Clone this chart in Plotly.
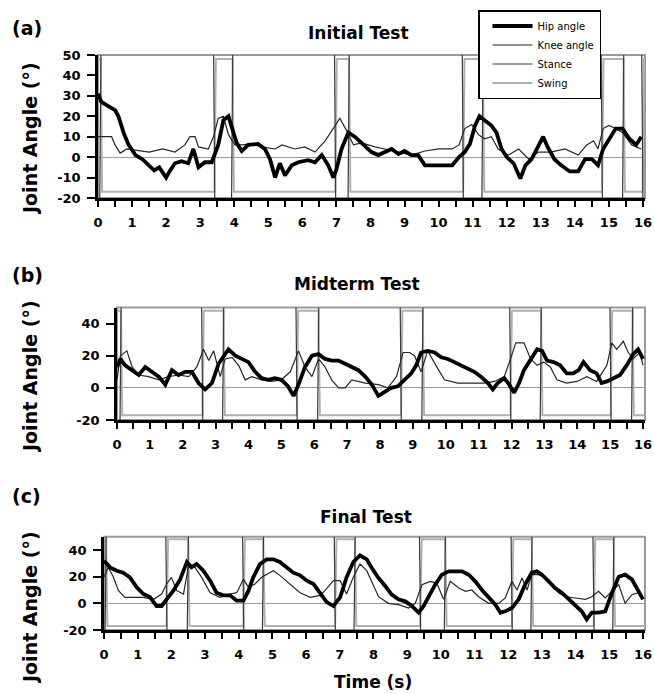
import plotly.graph_objects as go

# ---------------- data ----------------
# Panel (a) Initial Test
a_hip_t = [0, 0.1, 0.3, 0.5, 0.6, 0.75, 0.9, 1.1, 1.3, 1.5, 1.65, 1.8, 2.0, 2.1, 2.26, 2.45, 2.65, 2.8, 2.95, 3.14,
           3.34, 3.53, 3.68, 3.83, 3.92, 4.07, 4.22, 4.41, 4.7, 4.9, 5.05, 5.2, 5.34, 5.49, 5.69, 5.88, 6.17, 6.37, 6.57, 6.76,
           6.91, 7.0, 7.15, 7.35, 7.54, 7.74, 8.03, 8.23, 8.42, 8.62, 8.82, 9.0, 9.2, 9.4, 9.6, 9.8, 10.1, 10.4, 10.6, 10.77,
           10.92, 11.07, 11.2, 11.35, 11.55, 11.7, 11.85, 12.0, 12.2, 12.4, 12.55, 12.73, 12.93, 13.07, 13.2, 13.4, 13.6, 13.85, 14.1, 14.3,
           14.5, 14.68, 14.83, 15.0, 15.2, 15.4, 15.6, 15.8, 15.95]
a_hip = [31, 27, 25, 23, 20, 12, 6, 1, -1, -4, -6.5, -5, -10, -7, -3, -2, -3, 4, -5, -2.5,
         -2.5, 6, 18, 20, 15, 7, 3, 6, 6.5, 4, -1, -10, -3, -9, -4, -2.5, -1.5, -2.5, 1, -4,
         -10, -6, 4, 12, 10, 7, 2.5, 1, 2.5, 4, 1.5, 3, 1, 1, -4, -4, -4, -4, 0, 2.5,
         6.5, 15.5, 20, 18, 15.5, 12, 4, 0, -3, -10.5, -4, -1, 6, 10, 5, -1, -4, -7, -7, -1,
         -1, -4, 4, 9, 14, 14, 9, 6, 10]
a_knee_t = [0, 0.4, 0.5, 0.65, 0.85, 1.2, 1.5, 1.9, 2.26, 2.55, 2.7, 2.85, 2.95, 3.24, 3.39, 3.53, 3.68, 3.83, 4.02, 4.22,
            4.5, 4.8, 5.2, 5.4, 5.78, 6.07, 6.37, 6.67, 6.91, 7.1, 7.3, 7.5, 7.74, 8.13, 8.42, 8.82, 9.2, 9.6, 10.0, 10.4,
            10.6, 10.77, 10.97, 11.17, 11.35, 11.55, 11.75, 12.05, 12.35, 12.65, 12.93, 13.3, 13.71, 14.1, 14.35, 14.55, 14.68, 14.83, 15.0, 15.2,
            15.4, 15.67, 15.95]
a_knee = [10, 10, 6, 2, 4, 3, 2.5, 4, 2.5, 6, 10, 10, 5, 4, 10, 19, 20, 11, 6, 6,
          6.5, 5, 4, 6, 4, 5, 2.5, 8, 14, 19, 13, 6, 7, 5, 4, 2.5, 1, 3, 4, 4,
          6, 14, 16, 11, 9, 10, 4, 1, 4, -1, 2.5, 2.5, 4, 1, 6, 8, 4, 14, 15.5, 14,
          12, 6, 4]
a_swing = [(0, 0.08), (3.42, 3.95), (6.97, 7.37), (10.72, 11.3), (14.8, 15.43), (15.99, 16.06)]

# Panel (b) Midterm Test
b_hip_t = [0, 0.1, 0.25, 0.46, 0.66, 0.86, 1.06, 1.27, 1.47, 1.67, 1.87, 2.08, 2.28, 2.48, 2.68, 2.89, 3.09, 3.29, 3.39, 3.6,
           3.8, 4.0, 4.2, 4.4, 4.6, 4.8, 5.0, 5.2, 5.37, 5.52, 5.72, 5.93, 6.13, 6.33, 6.53, 6.74, 6.94, 7.14, 7.34, 7.55,
           7.75, 7.95, 8.13, 8.34, 8.54, 8.74, 8.95, 9.1, 9.25, 9.45, 9.66, 9.86, 10.06, 10.26, 10.47, 10.67, 10.87, 11.07, 11.28, 11.43,
           11.58, 11.78, 11.93, 12.08, 12.23, 12.38, 12.58, 12.78, 12.93, 13.08, 13.28, 13.48, 13.68, 13.88, 14.04, 14.19, 14.39, 14.59, 14.74, 14.9,
           15.1, 15.3, 15.5, 15.7, 15.85, 16.0]
b_hip = [13, 18, 14, 11, 8, 13, 10, 7, 2, 11, 8, 10, 10, 3, -1, 3, 15, 21, 24, 20,
         18, 16, 10, 6, 5, 6, 5, 1, -5, 2, 13, 20, 21, 18, 17, 17, 15, 13, 11, 7,
         2, -5, -3, 0, 1, 5, 9, 14, 22, 23, 22, 19, 18, 16, 14, 12, 10, 7, 3, -1,
         3, 6, 2, -3, 3, 11, 18, 24, 23, 17, 16, 14, 9, 9, 11, 16, 11, 9, 3, 4,
         6, 8, 14, 21, 24, 18]
b_knee_t = [0, 0.1, 0.3, 0.46, 0.66, 0.96, 1.27, 1.57, 1.87, 2.18, 2.43, 2.63, 2.79, 2.94, 3.14, 3.29, 3.5, 3.7, 3.9, 4.1,
            4.4, 4.7, 5.0, 5.27, 5.52, 5.72, 5.93, 6.13, 6.33, 6.53, 6.74, 6.94, 7.14, 7.55, 7.95, 8.24, 8.5, 8.7, 8.9, 9.05,
            9.25, 9.45, 9.7, 9.96, 10.36, 10.77, 11.17, 11.48, 11.78, 11.97, 12.13, 12.38, 12.58, 12.78, 12.98, 13.18, 13.38, 13.68, 13.99, 14.29,
            14.59, 14.9, 15.05, 15.2, 15.4, 15.55, 15.7, 15.9, 16.0]
b_knee = [5, 20, 23, 13, 8, 7, 5, 7, 8, 7, 13, 24, 17, 23, 7, 18, 19, 14, 5, 7,
          5, 4, 5, 10, 23, 13, 7, 18, 13, 5, 0, 0, 5, 3, 2, 0, 7, 22, 22, 20,
          10, 23, 14, 5, 3, 3, 3, 4, 7, 18, 28, 28, 18, 14, 16, 13, 5, 3, 4, 7,
          4, 14, 28, 24, 29, 22, 18, 22, 14]
b_swing = [(0, 0.12), (2.6, 3.24), (5.47, 6.13), (8.64, 9.3), (11.97, 12.9), (15.02, 15.68)]

# Panel (c) Final Test
c_hip_t = [0, 0.18, 0.38, 0.57, 0.77, 0.97, 1.17, 1.37, 1.56, 1.71, 1.86, 2.06, 2.26, 2.46, 2.6, 2.75, 2.95, 3.15, 3.34, 3.54,
           3.74, 3.94, 4.14, 4.29, 4.43, 4.63, 4.83, 5.03, 5.22, 5.42, 5.62, 5.82, 6.02, 6.22, 6.42, 6.61, 6.81, 7.01, 7.2, 7.4,
           7.6, 7.8, 7.95, 8.15, 8.35, 8.54, 8.74, 8.94, 9.14, 9.34, 9.49, 9.63, 9.83, 10.03, 10.23, 10.43, 10.63, 10.83, 11.02, 11.22,
           11.42, 11.62, 11.77, 11.91, 12.11, 12.31, 12.5, 12.7, 12.85, 13.0, 13.2, 13.39, 13.59, 13.79, 13.99, 14.18, 14.33, 14.48, 14.68, 14.88,
           15.08, 15.28, 15.47, 15.67, 15.87, 16.0]
c_hip = [32, 27, 24.5, 23, 19.5, 12, 7, 4.5, -2, -2, 3, 9.5, 18, 31, 27, 29.5, 24.5, 17, 8, 6,
         6, 2, 2, 9.5, 19.5, 29.5, 33, 33, 31, 27, 23, 21, 17, 14.5, 8, 1, -2, 4.5, 19.5, 31,
         36, 33, 26.5, 19, 13, 6.5, 3, 1.5, -2, -7, -2, 5, 14, 21.5, 24, 24, 24, 21.5, 16.5, 10,
         4, -1, -7, -6, -3.5, 3, 14, 23, 24, 21.5, 16.5, 11.5, 8, 3, -1, -6, -12, -7, -7, -6,
         8, 20, 21.5, 18, 9, 3]
c_knee_t = [0, 0.13, 0.28, 0.43, 0.62, 0.87, 1.17, 1.47, 1.71, 1.86, 2.0, 2.16, 2.36, 2.5, 2.7, 2.9, 3.15, 3.44, 3.74, 3.94,
            4.14, 4.29, 4.48, 4.68, 4.88, 5.03, 5.22, 5.52, 5.82, 6.12, 6.42, 6.61, 6.81, 7.01, 7.2, 7.4, 7.6, 7.8, 7.95, 8.15,
            8.44, 8.74, 9.04, 9.24, 9.44, 9.69, 9.88, 10.08, 10.28, 10.53, 10.73, 10.92, 11.12, 11.42, 11.72, 11.91, 12.11, 12.26, 12.41, 12.56,
            12.7, 12.9, 13.1, 13.3, 13.49, 13.69, 13.99, 14.29, 14.48, 14.68, 14.88, 15.08, 15.28, 15.47, 15.67, 15.87, 16.0]
c_knee = [19.5, 27, 19.5, 9.5, 4.5, 4.5, 4.5, 3, 7, 14.5, 19.5, 9.5, 7, 27, 27, 19.5, 8, 4.5, 7, 8,
          18, 12, 14.5, 19.5, 22, 24.5, 21, 14.5, 8, 4.5, 6, 11, 17, 17, 7, 19.5, 29.5, 24.5, 16.5, 5,
          0, -1, -3.5, 0, 14, 16.5, 15, 3, 16.5, 11.5, 9, 10, 5, 0, 0, 4, 16.5, 10, 19, 10,
          21.5, 21.5, 19, 14, 8, 5, 4, 3, 5, 9, 4, 9, 14, 0, 6.5, 8, 4]
c_swing = [(0, 0.06), (1.86, 2.5), (4.14, 4.73), (6.86, 7.45), (9.39, 10.13), (12.11, 12.7), (14.54, 15.13)]

panel_titles = ["Initial Test", "Midterm Test", "Final Test"]
panel_letters = ["(a)", "(b)", "(c)"]
x_ticks = list(range(0, 17))
y_ticks_a = [-20, -10, 0, 10, 20, 30, 40, 50]
y_ticks_bc = [-20, 0, 20, 40]

# footswitch levels (stance signal runs past the plot limits and is clipped)
STANCE_HI, STANCE_LO = 60, -25
SWING_HI, SWING_LO = 48, -17
T_END = 16.06


def square_wave(intervals, on_val, off_val, shift, end=T_END, slant=0.04):
    xs, ys = [], []
    if intervals[0][0] > 0:
        xs.append(0); ys.append(off_val)
    for s, e in intervals:
        if s <= 0:
            xs.append(0); ys.append(on_val)
        else:
            xs += [s + shift, s + shift + slant]; ys += [off_val, on_val]
        if e < end:
            xs += [e + shift, e + shift + slant]; ys += [on_val, off_val]
    last = ys[-1]
    xs.append(end); ys.append(last)
    return xs, ys


FONT = "DejaVu Sans"
fig = go.Figure()

panels = [
    (a_hip_t, a_hip, a_knee_t, a_knee, a_swing, y_ticks_a, 98, 55, 198),
    (b_hip_t, b_hip, b_knee_t, b_knee, b_swing, y_ticks_bc, 117, 307.5, 420),
    (c_hip_t, c_hip, c_knee_t, c_knee, c_swing, y_ticks_bc, 104, 536.7, 630),
]
W, H = 655, 694
shapes = []
annotations = []

for i, (ht, hv, kt, kv, sw, yt, xl, ytop, ybot) in enumerate(panels):
    sfx = "" if i == 0 else str(i + 1)
    xa, ya = "x" + sfx, "y" + sfx
    first = i == 0
    sx, sy = square_wave(sw, STANCE_LO, STANCE_HI, -0.03)
    wx, wy = square_wave(sw, SWING_HI, SWING_LO, 0.0)
    fig.add_trace(go.Scatter(x=wx, y=wy, mode="lines", name="Swing", xaxis=xa, yaxis=ya,
                             line=dict(color="#b0b0b0", width=2), showlegend=first, legendrank=4))
    fig.add_trace(go.Scatter(x=sx, y=sy, mode="lines", name="Stance", xaxis=xa, yaxis=ya,
                             line=dict(color="#3a3a3a", width=1.2), showlegend=first, legendrank=3))
    fig.add_trace(go.Scatter(x=kt, y=kv, mode="lines", name="Knee angle", xaxis=xa, yaxis=ya,
                             line=dict(color="#262626", width=1.2), showlegend=first, legendrank=2))
    fig.add_trace(go.Scatter(x=ht, y=hv, mode="lines", name="Hip angle", xaxis=xa, yaxis=ya,
                             line=dict(color="black", width=3.8), showlegend=first, legendrank=1))

    tickfont = dict(family=FONT, size=13, color="black", weight="bold")
    fig.layout["xaxis" + sfx] = dict(
        domain=[xl / W, 645 / W], range=[0, T_END], anchor=ya,
        tickvals=x_ticks, ticktext=[str(v) for v in x_ticks],
        ticks="outside", ticklen=6, tickwidth=1.5, tickcolor="black",
        minor=dict(dtick=0.5, tick0=0, ticks="outside", ticklen=6, tickwidth=1.5, tickcolor="black", showgrid=False),
        showline=True, linecolor="black", linewidth=2.5,
        showgrid=False, zeroline=False, tickfont=tickfont, ticklabelstandoff=5,
        ticklabeloverflow="allow", fixedrange=True)
    fig.layout["yaxis" + sfx] = dict(
        domain=[1 - ybot / H, 1 - ytop / H], range=[-20, 50], anchor=xa,
        tickvals=yt, ticktext=[str(v) for v in yt],
        ticks="outside", ticklen=8, tickwidth=1.5, tickcolor="black",
        showline=True, linecolor="black", linewidth=2.5,
        showgrid=False, zeroline=True, zerolinecolor="#9a9a9a", zerolinewidth=1.2,
        tickfont=tickfont, ticklabelstandoff=4, fixedrange=True)
    shapes.append(dict(type="rect", xref=xa + " domain", yref=ya + " domain", x0=0, x1=1, y0=0, y1=1,
                       line=dict(color="#9a9a9a", width=2), layer="below"))

title_font = dict(family=FONT, size=17, color="black", weight="bold")
big_font = dict(family=FONT, size=19, color="black", weight="bold")
title_pos = [(358, 33), (357, 284), (366, 517)]
letter_pos = [(27, 28), (27, 275), (26, 496)]
ytitle_pos = [(30, 139), (30, 377), (30, 608)]
for i in range(3):
    tx, ty = title_pos[i]
    annotations.append(dict(text=panel_titles[i], x=tx / W, y=1 - ty / H, xref="paper", yref="paper",
                            showarrow=False, font=title_font, xanchor="center", yanchor="middle"))
    lx, ly = letter_pos[i]
    annotations.append(dict(text=panel_letters[i], x=lx / W, y=1 - ly / H, xref="paper", yref="paper",
                            showarrow=False, font=big_font, xanchor="center", yanchor="middle"))
    yx, yy = ytitle_pos[i]
    annotations.append(dict(text="Joint Angle (°)", x=yx / W, y=1 - yy / H, xref="paper", yref="paper",
                            showarrow=False, font=big_font, textangle=-90, xanchor="center", yanchor="middle"))
annotations.append(dict(text="Time (s)", x=373 / W, y=1 - 682 / H, xref="paper", yref="paper",
                        showarrow=False, font=title_font, xanchor="center", yanchor="middle"))

fig.update_layout(
    width=W, height=H,
    margin=dict(l=0, r=0, t=0, b=0, autoexpand=False),
    paper_bgcolor="white", plot_bgcolor="white",
    shapes=shapes, annotations=annotations,
    legend=dict(x=478 / W, y=1 - 10 / H, xanchor="left", yanchor="top",
                bgcolor="white", bordercolor="black", borderwidth=1.5,
                font=dict(family=FONT, size=10, color="black"),
                tracegroupgap=0, itemwidth=40, indentation=8),
)

fig.write_html("out.html", config={"displayModeBar": False},
               post_script="document.body.style.margin='0px';document.body.style.overflow='hidden';")
